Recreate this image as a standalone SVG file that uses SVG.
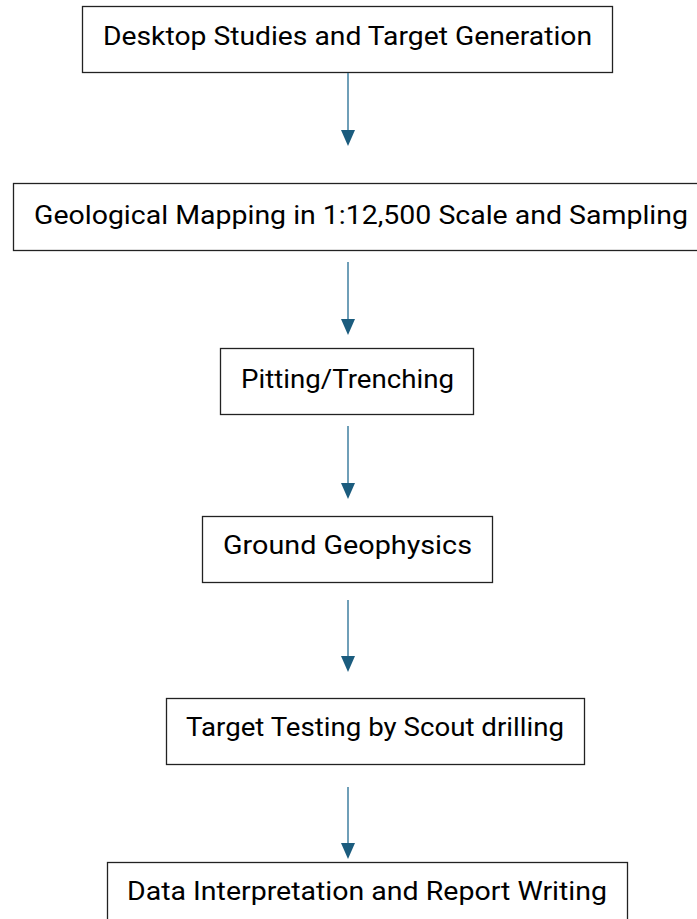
<svg xmlns="http://www.w3.org/2000/svg" width="697" height="919" viewBox="0 0 697 919">
<style>
.box{fill:#fff;stroke:#222;stroke-width:1.3}
.lbl{font-family:Roboto,"Liberation Sans",sans-serif;font-size:25.5px;fill:#000;text-anchor:middle}
.con{stroke:#3f7fa0;stroke-width:1.5;fill:none}
.head{fill:#1b5c7e}
</style>
<rect width="697" height="919" fill="#fff"/>
<g id="n1"><rect class="box" x="82.5" y="6.5" width="530" height="66"/><text class="lbl" x="347.5" y="44.5" textLength="489" lengthAdjust="spacingAndGlyphs">Desktop Studies and Target Generation</text></g>
<g id="n2"><rect class="box" x="13.5" y="183.5" width="700" height="67"/><text class="lbl" x="361" y="223.5" textLength="654" lengthAdjust="spacingAndGlyphs">Geological Mapping in 1:12,500 Scale and Sampling</text></g>
<g id="n3"><rect class="box" x="220.5" y="348.5" width="253" height="66"/><text class="lbl" x="347.5" y="387.5" textLength="213" lengthAdjust="spacingAndGlyphs">Pitting/Trenching</text></g>
<g id="n4"><rect class="box" x="202.5" y="516.5" width="290" height="66"/><text class="lbl" x="347.5" y="553.5" textLength="249" lengthAdjust="spacingAndGlyphs">Ground Geophysics</text></g>
<g id="n5"><rect class="box" x="166.5" y="698.5" width="418" height="66"/><text class="lbl" x="375" y="735.5" textLength="378" lengthAdjust="spacingAndGlyphs">Target Testing by Scout drilling</text></g>
<g id="n6"><rect class="box" x="107.5" y="862.5" width="520" height="70"/><text class="lbl" x="367" y="899.5" textLength="480" lengthAdjust="spacingAndGlyphs">Data Interpretation and Report Writing</text></g>
<g id="connectors">
<line class="con" x1="348" y1="73" x2="348" y2="132"/><polygon class="head" points="341,130 355,130 348,146"/>
<line class="con" x1="348" y1="262" x2="348" y2="321"/><polygon class="head" points="341,319 355,319 348,335"/>
<line class="con" x1="348" y1="426" x2="348" y2="485"/><polygon class="head" points="341,483 355,483 348,499"/>
<line class="con" x1="348" y1="600" x2="348" y2="658"/><polygon class="head" points="341,656 355,656 348,672"/>
<line class="con" x1="348" y1="787" x2="348" y2="845"/><polygon class="head" points="341,843 355,843 348,859"/>
</g>
</svg>
